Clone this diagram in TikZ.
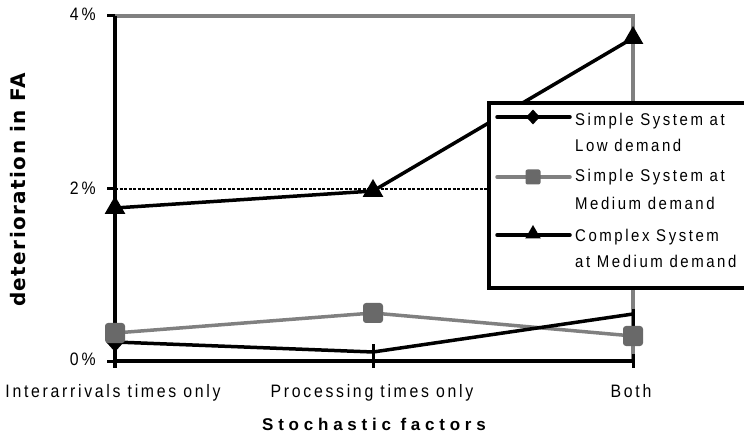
\documentclass[tikz,border=0pt]{standalone}
\usepackage{fontspec}
\setmainfont{Liberation Sans}[FakeStretch=0.88,LetterSpace=15]
\newfontfamily\axistitlefont{Liberation Sans}[LetterSpace=28]
\newfontfamily\ytitlefont{DejaVu Sans}[LetterSpace=7]
\usetikzlibrary{shapes.geometric}
\definecolor{bordergray}{RGB}{128,128,128}
\definecolor{markgray}{RGB}{105,105,105}
\begin{document}
\begin{tikzpicture}[x=1bp,y=-1bp,
  axisline/.style={line width=4bp,black},
  frameline/.style={line width=4bp,bordergray},
  gridline/.style={line width=1.5bp,black,dash pattern=on 3bp off 1.5bp},
  tickline/.style={line width=3bp,black},
  lowline/.style={line width=3.5bp,black,line join=round,line cap=round},
  medline/.style={line width=3.5bp,bordergray,line join=round,line cap=round},
  cpxline/.style={line width=3.5bp,black,line join=round,line cap=round},
  sqmark/.style={fill=markgray,rounded corners=3bp,minimum size=20bp,inner sep=0pt},
  trimark/.style={fill=black,regular polygon,regular polygon sides=3,minimum size=24bp,inner sep=0pt},
  dmmark/.style={fill=black,diamond,minimum width=18bp,minimum height=20bp,inner sep=0pt},
  sqkey/.style={fill=markgray,rounded corners=2bp,minimum size=15bp,inner sep=0pt},
  trikey/.style={fill=black,regular polygon,regular polygon sides=3,minimum size=18bp,inner sep=0pt},
  dmkey/.style={fill=black,diamond,minimum width=14bp,minimum height=15bp,inner sep=0pt},
  lbl/.style={font=\fontsize{18bp}{21bp}\selectfont,inner sep=0pt},
  keylbl/.style={font=\fontsize{17bp}{20bp}\selectfont,inner sep=0pt,anchor=base west}]
\useasboundingbox (0,0) rectangle (744,435);
\clip (0,0) rectangle (744,435);

% plot frame and grid
\coordinate (o) at (115,361);
\coordinate (ytop) at (115,16);
\coordinate (ybot) at (115,368);
\coordinate (ymid) at (115,189);
\coordinate (rtop) at (633,16);
\coordinate (rmid) at (633,189);
\coordinate (rbot) at (633,361);
\draw[gridline] (ymid) -- (rmid);
\draw[frameline] (ytop) -- (rtop) -- (rbot);
\draw[axisline] (ytop) -- (ybot);
\draw[axisline] (o) -- (rbot);

% value ticks
\foreach \yy/\nm in {16/t4,189/t2,361/t0}{
  \coordinate (\nm a) at (107,\yy);
  \coordinate (\nm b) at (115,\yy);
  \draw[tickline] (\nm a) -- (\nm b);
}

% data points
\coordinate (l1) at (115,342);
\coordinate (l2) at (373,352);
\coordinate (l3) at (633,314);
\coordinate (m1) at (115,333);
\coordinate (m2) at (373,313);
\coordinate (m3) at (633,336);
\coordinate (c1) at (115,208);
\coordinate (c2) at (373,191);
\coordinate (c3) at (633,38);

% category ticks
\coordinate (k2a) at (373,344);
\coordinate (k2b) at (373,368);
\coordinate (k3a) at (633,309);
\coordinate (k3b) at (633,326);
\coordinate (k3c) at (633,354);
\coordinate (k3d) at (633,368);
\draw[tickline] (k2a) -- (k2b);
\draw[tickline] (k3a) -- (k3b);
\draw[tickline] (k3c) -- (k3d);

% series
\draw[medline] (m1) -- (m2) -- (m3);
\draw[lowline] (l1) -- (l2) -- (l3);
\draw[cpxline] (c1) -- (c2) -- (c3);
\node[dmmark] (ld1) at (l1) {};
\node[sqmark] (ms1) at (m1) {};
\node[sqmark] (ms2) at (m2) {};
\node[sqmark] (ms3) at (m3) {};
\node[trimark] (ct1) at (c1) {};
\node[trimark] (ct2) at (c2) {};
\node[trimark] (ct3) at (c3) {};

% value labels
\node[lbl,anchor=base east] (v4) at (96,21) {4\,\%};
\node[lbl,anchor=base east] (v2) at (96,195) {2\,\%};
\node[lbl,anchor=base east] (v0) at (96,366) {0\,\%};

% category labels
\node[lbl,anchor=base] (cat1) at (113,397) {Interarrivals times only};
\node[lbl,anchor=base] (cat2) at (372,397) {Processing times only};
\node[lbl,anchor=base] (cat3) at (631,397) {Both};

% axis titles
\node[inner sep=0pt,anchor=base,font=\axistitlefont\bfseries\fontsize{17bp}{20bp}\selectfont] (xtitle) at (374,430) {Stochastic factors};
\node[inner sep=0pt,anchor=base,rotate=90,font=\ytitlefont\bfseries\fontsize{20bp}{24bp}\selectfont] (ytitle) at (25,190) {deterioration in FA};

% legend
\node[draw=black,line width=4bp,fill=white,inner sep=0pt,minimum width=273bp,minimum height=185bp,anchor=north west] (legend) at (487,101) {};
\coordinate (k1a) at (497,117);
\coordinate (k1b) at (570,117);
\coordinate (k2s) at (497,177);
\coordinate (k2e) at (570,177);
\coordinate (k3s) at (497,235);
\coordinate (k3e) at (570,235);
\draw[lowline] (k1a) -- (k1b);
\draw[medline] (k2s) -- (k2e);
\draw[cpxline] (k3s) -- (k3e);
\node[dmkey] (kd) at (533,117) {};
\node[sqkey] (ks) at (533,177) {};
\node[trikey] (kt) at (533,234) {};
\node[keylbl] (e1a) at (575,126) {Simple System at};
\node[keylbl] (e1b) at (575,152) {Low demand};
\node[keylbl] (e2a) at (575,182) {Simple System at};
\node[keylbl] (e2b) at (575,210) {Medium demand};
\node[keylbl] (e3a) at (575,242) {Complex System};
\node[keylbl] (e3b) at (575,268) {at Medium demand};
\end{tikzpicture}
\end{document}
